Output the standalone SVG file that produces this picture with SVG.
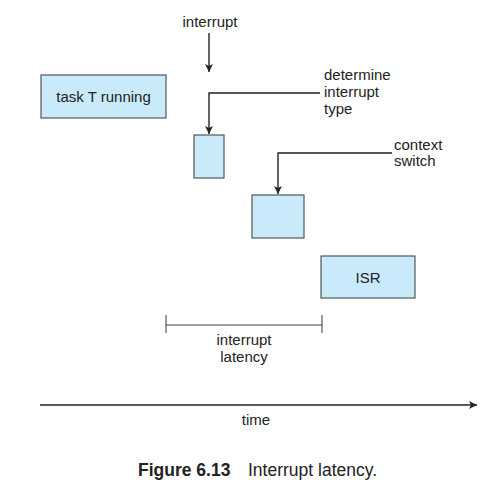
<svg xmlns="http://www.w3.org/2000/svg" width="489" height="489" viewBox="0 0 489 489">
<style>
.box{fill:#c9eafa;stroke:#555;stroke-width:1.2}
.ln{fill:none;stroke:#222;stroke-width:1.4}
.thin{fill:none;stroke:#444;stroke-width:1.1}
text{font-family:"Liberation Sans",Arial,sans-serif;font-size:15px;fill:#222}
.mid{text-anchor:middle}
.cap{font-size:17.5px}
</style>
<defs>
<marker id="ah" viewBox="0 0 10 10" refX="10" refY="5" markerWidth="8" markerHeight="8" markerUnits="userSpaceOnUse" orient="auto">
<path d="M0,0 L10,5 L0,10 L2.5,5 Z" fill="#222"/>
</marker>
</defs>
<rect width="489" height="489" fill="#fff"/>
<g id="connectors">
<line class="ln" x1="209" y1="33" x2="209" y2="72" marker-end="url(#ah)"/>
<polyline class="ln" points="320,93 209,93 209,134" marker-end="url(#ah)"/>
<polyline class="ln" points="392,153 278,153 278,194" marker-end="url(#ah)"/>
<line class="ln" x1="40" y1="405" x2="477" y2="405" marker-end="url(#ah)"/>
<g id="latency-bracket">
<line class="thin" x1="166" y1="325" x2="322" y2="325"/>
<line class="thin" x1="166" y1="315" x2="166" y2="333"/>
<line class="thin" x1="322" y1="315" x2="322" y2="333"/>
</g>
</g>
<g id="task">
<rect class="box" x="41" y="75" width="125" height="43"/>
<text class="mid" x="103.5" y="102">task T running</text>
</g>
<g id="determine-box">
<rect class="box" x="194" y="135" width="30" height="43"/>
</g>
<g id="context-box">
<rect class="box" x="252" y="195" width="52" height="43"/>
</g>
<g id="isr">
<rect class="box" x="321" y="256" width="94" height="42"/>
<text class="mid" x="368" y="283">ISR</text>
</g>
<g id="labels">
<text class="mid" x="210" y="27">interrupt</text>
<text x="324" y="80">determine</text>
<text x="324" y="97">interrupt</text>
<text x="324" y="114">type</text>
<text x="394" y="150">context</text>
<text x="394" y="166">switch</text>
<text class="mid" x="244" y="345">interrupt</text>
<text class="mid" x="244" y="362">latency</text>
<text class="mid" x="256" y="425">time</text>
</g>
<g id="caption">
<text class="cap" x="138" y="476" font-weight="bold">Figure 6.13</text>
<text class="cap" x="248" y="476">Interrupt latency.</text>
</g>
</svg>
